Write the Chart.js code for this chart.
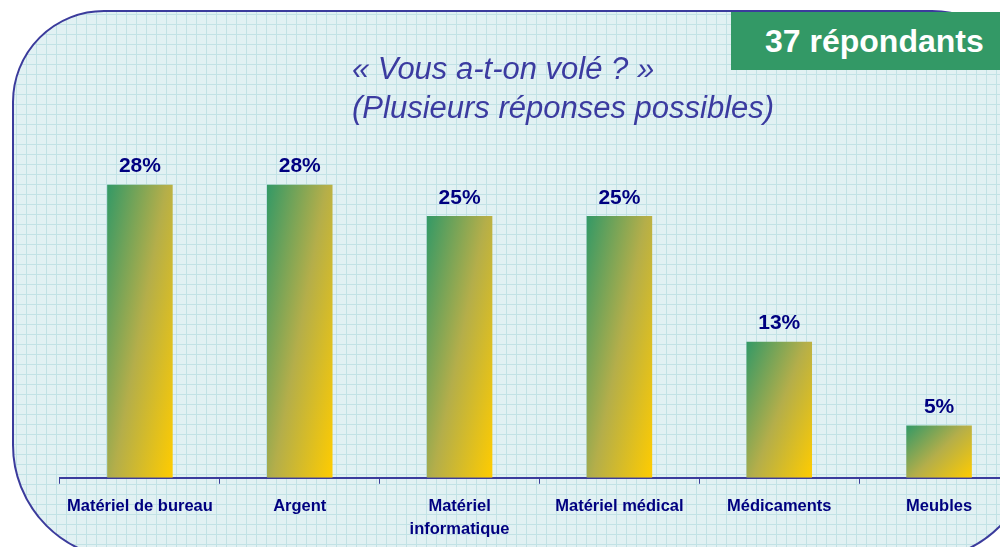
<!DOCTYPE html>
<html>
<head>
<meta charset="utf-8">
<script src="https://cdn.jsdelivr.net/npm/chart.js@4"></script>
<style>
  html, body { margin: 0; padding: 0; background: #fff; }
  body { width: 1000px; height: 547px; overflow: hidden; position: relative; font-family: "Liberation Sans", Arial, sans-serif; }
  #panel {
    position: absolute; left: 12px; top: 10px; width: 1020px; height: 550px;
    border: 2px solid #3b3b9c; box-sizing: border-box;
    border-radius: 92px 100px 110px 115px;
    background-color: #e1f1f3;
    background-image:
      linear-gradient(to right, #c2e2e5 1px, transparent 1px),
      linear-gradient(to bottom, #c2e2e5 1px, transparent 1px);
    background-size: 10px 10px;
    background-position: 2px 2px;
  }
  #title {
    position: absolute; left: 352px; top: 49px; color: #3b3ba0;
    font-style: italic; font-size: 31px; line-height: 39px; white-space: nowrap;
  }
  #badge {
    position: absolute; left: 731px; top: 12px; width: 290px; height: 58px;
    background: #339966; color: #fff; font-weight: bold; font-size: 32px;
    line-height: 58px; padding-left: 34px; box-sizing: border-box;
  }
  #wrap { position: absolute; left: 0; top: 0; width: 1040px; height: 570px; }
</style>
</head>
<body>
<div id="panel"></div>
<div id="wrap"><canvas id="chart" width="1040" height="570"></canvas></div>
<div id="title">« Vous a-t-on volé ? »<br>(Plusieurs réponses possibles)</div>
<div id="badge">37 répondants</div>
<script>
var categories = ['Matériel de bureau', 'Argent', ['Matériel', 'informatique'], 'Matériel médical', 'Médicaments', 'Meubles'];
var percentages = [28, 28, 25, 25, 13, 5];
var barPct = 0.41;

function barGradient(ctx) {
  var chart = ctx.chart;
  var xs = chart.scales.x, ys = chart.scales.y;
  if (!chart.chartArea || !xs || !ys || ctx.dataIndex == null) return '#99b040';
  var w = (xs.width / categories.length) * barPct;
  var left = xs.getPixelForValue(ctx.dataIndex) - w / 2;
  var top = ys.getPixelForValue(percentages[ctx.dataIndex]);
  var h = ys.getPixelForValue(0) - top;
  if (!(h > 0) || !(w > 0)) return '#99b040';
  var a = 0.55 / w, b = 0.45 / h, n = a * a + b * b;
  var g = chart.ctx.createLinearGradient(left, top, left + a / n, top + b / n);
  g.addColorStop(0, '#339966');
  g.addColorStop(0.5, '#b4ae4a');
  g.addColorStop(1, '#ffcc00');
  return g;
}

var valueLabels = {
  id: 'valueLabels',
  afterDatasetsDraw: function(chart) {
    var c = chart.ctx;
    var meta = chart.getDatasetMeta(0);
    c.save();
    c.fillStyle = '#000080';
    c.font = 'bold 21px "Liberation Sans", Arial, sans-serif';
    c.textAlign = 'center';
    c.textBaseline = 'middle';
    meta.data.forEach(function(bar, i) {
      c.fillText(percentages[i] + '%', bar.x, bar.y - 18);
    });
    c.restore();
  }
};

new Chart(document.getElementById('chart'), {
  type: 'bar',
  data: {
    labels: categories,
    datasets: [{
      data: percentages,
      backgroundColor: barGradient,
      borderWidth: 0,
      categoryPercentage: 1,
      barPercentage: barPct
    }]
  },
  options: {
    responsive: false,
    animation: false,
    layout: { padding: { left: 60, right: 21, top: 59, bottom: 18 } },
    plugins: { legend: { display: false }, tooltip: { enabled: false } },
    scales: {
      x: {
        grid: { offset: true, drawOnChartArea: false, drawTicks: true, tickLength: 6, color: '#3b3b9c', lineWidth: 1 },
        border: { display: true, color: '#3b3b9c', width: 2 },
        ticks: {
          color: '#000080', padding: 11, maxRotation: 0, autoSkip: false,
          font: { family: '"Liberation Sans", Arial, sans-serif', size: 16.5, weight: 'bold', lineHeight: 1.4 }
        }
      },
      y: { display: false, min: 0, max: 40 }
    }
  },
  plugins: [valueLabels]
});
</script>
</body>
</html>
